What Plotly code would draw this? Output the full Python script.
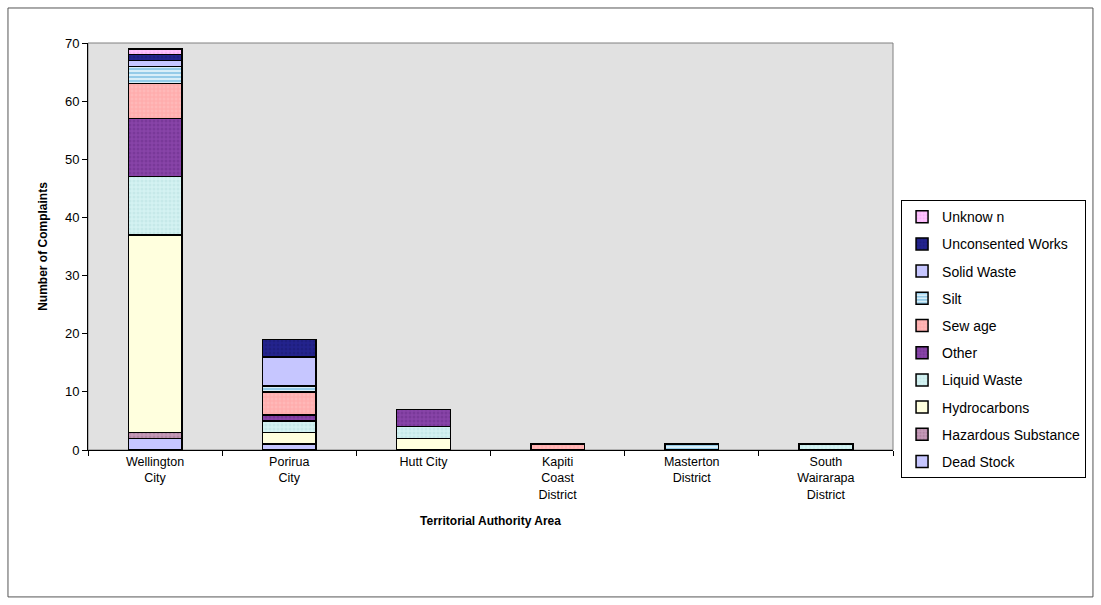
import plotly.graph_objects as go

areas = ["Wellington<br>City", "Porirua<br>City", "Hutt City",
         "Kapiti<br>Coast<br>District", "Masterton<br>District",
         "South<br>Wairarapa<br>District"]

dead_stock = [2, 1, 0, 0, 0, 0]
hazardous = [1, 0, 0, 0, 0, 0]
hydrocarbons = [34, 2, 2, 0, 0, 0]
liquid_waste = [10, 2, 2, 0, 0, 1]
other = [10, 1, 3, 0, 0, 0]
sewage = [6, 4, 0, 1, 0, 0]
silt = [3, 1, 0, 0, 1, 0]
solid_waste = [1, 5, 0, 0, 0, 0]
unconsented = [1, 3, 0, 0, 0, 0]
unknown = [1, 0, 0, 0, 0, 0]

series = [
    ("Dead Stock", dead_stock, "#C6C6FF", "", "#C6C6FF"),
    ("Hazardous Substance", hazardous, "#C49AB8", ".", "#A0708F"),
    ("Hydrocarbons", hydrocarbons, "#FFFFDE", "", "#FFFFDE"),
    ("Liquid Waste", liquid_waste, "#D4F2F2", ".", "#B8E0E0"),
    ("Other", other, "#8844A8", ".", "#6A2E8A"),
    ("Sew age", sewage, "#FFB8B8", "+", "#FF9A9A"),
    ("Silt", silt, "#D8EEF8", "-", "#3F9FD5"),
    ("Solid Waste", solid_waste, "#C6C6FF", "", "#C6C6FF"),
    ("Unconsented Works", unconsented, "#23238E", ".", "#1A1A70"),
    ("Unknow n", unknown, "#FFC4FF", ".", "#F0A0F0"),
]

fig = go.Figure()
for i, (name, vals, col, shape, fg) in enumerate(series):
    marker = dict(color=col, line=dict(color="#000000", width=1.5))
    if shape:
        marker["pattern"] = dict(shape=shape, fgcolor=fg, bgcolor=col,
                                 size=4, solidity=0.45)
    fig.add_trace(go.Bar(x=areas, y=vals, name=name, marker=marker,
                         legendgroup=f"g{i}", legendrank=1000 - i))

font_family = "Liberation Sans, Arial, sans-serif"

fig.update_layout(
    width=1101, height=605,
    barmode="stack", bargap=0.6,
    paper_bgcolor="white", plot_bgcolor="#E1E1E1",
    margin=dict(l=88, r=208, t=43, b=155, autoexpand=False),
    font=dict(family=font_family, size=12, color="#000000"),
    legend=dict(
        traceorder="grouped",
        x=1.01, y=0.614, xanchor="left", yanchor="top",
        bgcolor="white", bordercolor="#000000", borderwidth=1,
        font=dict(size=14, family=font_family),
        itemwidth=30,
        tracegroupgap=6,
    ),
    xaxis=dict(
        title=dict(text="<b>Territorial Authority Area</b>",
                   font=dict(size=12), standoff=16),
        showline=True, linecolor="#000000", linewidth=1,
        ticks="outside", tickson="boundaries", ticklen=5,
        tickcolor="#000000",
        tickfont=dict(size=12.5),
    ),
    yaxis=dict(
        title=dict(text="<b>Number of Complaints</b>",
                   font=dict(size=12), standoff=14),
        range=[0, 70], dtick=10,
        showgrid=False, zeroline=False,
        showline=True, linecolor="#000000", linewidth=1,
        ticks="outside", ticklen=5, tickcolor="#000000",
        tickfont=dict(size=13),
    ),
    shapes=[
        dict(type="rect", xref="paper", yref="paper",
             x0=-0.0994, x1=1.2484, y0=-0.361, y1=1.086,
             line=dict(color="#555555", width=1), layer="below"),
        dict(type="rect", xref="paper", yref="paper",
             x0=0, x1=1, y0=0, y1=1,
             line=dict(color="#808080", width=1), layer="below"),
    ],
)

fig.write_html("out.html")
